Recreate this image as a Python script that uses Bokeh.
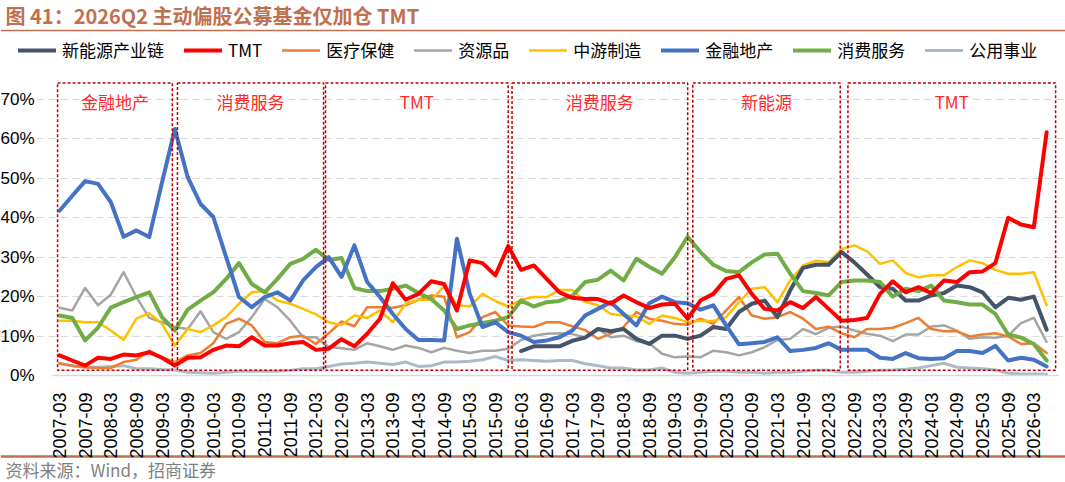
from bokeh.plotting import figure
from bokeh.models import (ColumnDataSource, FixedTicker, NumeralTickFormatter, Legend,
                          LegendItem, Range1d, LinearAxis, Grid)
from bokeh.embed import file_html
from bokeh.resources import INLINE
from bokeh.core.properties import value
import numpy as np

quarters = [
    "2007-03", "2007-06", "2007-09", "2007-12", "2008-03", "2008-06", "2008-09", "2008-12",
    "2009-03", "2009-06", "2009-09", "2009-12", "2010-03", "2010-06", "2010-09", "2010-12",
    "2011-03", "2011-06", "2011-09", "2011-12", "2012-03", "2012-06", "2012-09", "2012-12",
    "2013-03", "2013-06", "2013-09", "2013-12", "2014-03", "2014-06", "2014-09", "2014-12",
    "2015-03", "2015-06", "2015-09", "2015-12", "2016-03", "2016-06", "2016-09", "2016-12",
    "2017-03", "2017-06", "2017-09", "2017-12", "2018-03", "2018-06", "2018-09", "2018-12",
    "2019-03", "2019-06", "2019-09", "2019-12", "2020-03", "2020-06", "2020-09", "2020-12",
    "2021-03", "2021-06", "2021-09", "2021-12", "2022-03", "2022-06", "2022-09", "2022-12",
    "2023-03", "2023-06", "2023-09", "2023-12", "2024-03", "2024-06", "2024-09", "2024-12",
    "2025-03", "2025-06", "2025-09", "2025-12", "2026-03", "2026-06",
]

# values in percent
new_energy = [None] * 36 + [
    6.2, 7.4, 7.4, 7.4, 8.8, 9.6, 11.8, 11.2, 11.8, 9.3, 8.0, 10.1, 10.1, 9.3,
    10.1, 12.3, 11.8, 16.1, 18.2, 19.0, 14.8, 21.6, 27.3, 28.1, 28.1, 31.3, 28.7, 25.6,
    22.4, 22.0, 19.0, 19.0, 20.3, 20.9, 22.8, 22.4, 21.1, 17.3, 19.7, 19.2, 20.0, 11.6]
tmt = [
    5.1, 3.8, 2.5, 4.5, 4.2, 5.3, 5.1, 5.9, 4.5, 2.5, 4.5, 4.6, 6.5, 7.6, 7.4, 9.7,
    7.6, 7.6, 8.2, 8.5, 6.5, 6.8, 9.2, 7.4, 10.6, 14.4, 23.4, 19.2, 20.7, 23.9, 23.2, 16.5,
    29.2, 28.5, 25.4, 32.8, 26.8, 27.9, 24.5, 21.1, 19.7, 19.4, 19.4, 18.2, 20.3, 18.6, 17.1, 18.0,
    18.2, 14.4, 19.0, 20.7, 24.5, 25.4, 20.7, 16.9, 16.5, 18.6, 17.1, 19.9, 16.9, 13.9, 14.1, 14.6,
    20.7, 23.9, 21.1, 22.4, 20.9, 24.1, 23.7, 26.2, 26.4, 28.5, 40.0, 38.3, 37.6, 61.7]
healthcare = [
    3.1, 2.5, 2.1, 1.9, 1.9, 3.4, 4.0, 6.3, 4.6, 3.4, 5.1, 5.7, 8.2, 13.1, 14.4, 12.7,
    8.5, 8.2, 9.7, 10.1, 8.0, 10.7, 13.7, 12.5, 17.3, 17.3, 17.2, 17.8, 19.2, 20.3, 20.0, 9.7,
    11.0, 14.8, 16.1, 12.7, 12.4, 12.3, 13.5, 13.5, 12.5, 11.5, 9.3, 10.6, 12.3, 16.1, 14.4, 13.9,
    13.1, 12.9, 14.4, 13.1, 16.5, 19.9, 15.2, 14.4, 14.8, 16.1, 14.4, 11.8, 12.4, 10.7, 9.7, 11.8,
    11.8, 12.1, 13.3, 14.6, 11.8, 11.2, 11.2, 9.9, 10.4, 10.7, 9.9, 8.0, 8.2, 5.7]
resources = [
    17.2, 16.5, 22.2, 17.8, 20.5, 26.2, 19.9, 14.6, 13.5, 12.3, 11.8, 16.3, 11.0, 9.3, 11.0, 14.8,
    19.4, 17.3, 13.9, 9.7, 9.7, 7.2, 6.9, 6.5, 8.2, 7.4, 6.5, 7.6, 7.0, 5.9, 7.0, 6.3,
    5.7, 6.3, 6.3, 6.8, 9.0, 10.1, 10.6, 10.7, 10.5, 9.7, 11.8, 9.7, 10.1, 8.7, 8.2, 5.5,
    4.6, 4.8, 4.6, 6.3, 5.9, 5.1, 5.9, 7.2, 9.0, 9.3, 11.8, 10.5, 12.1, 12.4, 11.4, 10.6,
    10.1, 8.7, 10.4, 10.4, 12.4, 12.7, 11.4, 9.3, 9.7, 9.6, 10.1, 13.3, 14.6, 8.5]
midstream = [
    13.9, 13.9, 13.5, 13.5, 11.4, 9.0, 14.4, 15.8, 13.1, 7.6, 11.8, 11.0, 12.7, 14.8, 18.2, 21.1,
    21.4, 19.0, 18.2, 16.9, 15.5, 13.5, 12.8, 15.2, 14.6, 16.5, 13.5, 18.2, 19.2, 19.2, 22.6, 17.8,
    17.5, 20.7, 18.9, 17.5, 19.2, 19.9, 19.9, 21.7, 21.7, 18.7, 17.8, 15.6, 15.2, 15.0, 13.1, 15.2,
    14.6, 13.5, 13.9, 13.8, 14.8, 18.6, 22.0, 22.4, 18.6, 24.1, 27.9, 29.1, 28.7, 32.1, 33.0, 31.5,
    28.3, 29.2, 26.0, 24.9, 25.4, 25.4, 27.5, 29.2, 28.5, 26.8, 25.8, 25.8, 26.2, 17.8]
finance = [
    41.8, 45.6, 49.3, 48.6, 44.0, 35.2, 36.8, 35.1, 49.0, 62.5, 50.3, 43.5, 40.2, 30.0, 19.9, 17.3,
    19.9, 21.1, 19.0, 24.1, 27.5, 30.0, 25.0, 33.0, 23.7, 19.9, 15.6, 11.8, 9.0, 9.0, 8.9, 34.7,
    20.7, 12.3, 13.5, 11.0, 10.1, 8.5, 8.9, 9.7, 11.4, 15.2, 16.9, 18.6, 15.6, 12.7, 18.3, 20.0,
    18.6, 18.3, 16.7, 17.8, 12.7, 7.9, 8.2, 8.5, 9.7, 6.2, 6.5, 7.0, 8.2, 6.5, 6.5, 6.5,
    4.5, 4.2, 5.7, 4.4, 4.2, 4.4, 6.2, 6.2, 5.7, 7.5, 3.8, 4.5, 4.0, 2.3]
consumer = [
    15.2, 14.6, 8.9, 12.1, 17.2, 18.6, 19.9, 21.1, 14.8, 11.4, 16.7, 19.0, 21.1, 24.5, 28.5, 23.2,
    21.1, 24.5, 28.3, 29.6, 31.9, 29.3, 29.8, 22.2, 21.4, 21.4, 22.0, 22.8, 20.9, 19.4, 16.5, 11.8,
    12.7, 13.3, 13.9, 14.8, 19.0, 17.5, 18.6, 18.9, 20.2, 23.7, 24.3, 26.6, 24.1, 29.6, 27.6, 25.8,
    30.0, 35.2, 31.3, 28.1, 26.5, 26.2, 28.7, 30.7, 30.9, 25.8, 21.4, 20.9, 20.3, 23.7, 24.1, 24.1,
    23.7, 20.0, 22.0, 21.4, 22.8, 19.0, 18.6, 18.0, 18.0, 15.6, 10.4, 9.6, 8.0, 3.8]
utilities = [
    3.0, 2.5, 2.1, 2.1, 2.3, 2.5, 1.7, 1.7, 1.5, 1.4, 0.8, 0.7, 0.6, 0.8, 1.1, 1.1,
    1.1, 1.1, 1.3, 1.7, 1.7, 2.3, 2.9, 3.1, 3.4, 3.1, 2.8, 3.4, 2.3, 2.5, 3.4, 3.4,
    3.6, 4.0, 4.8, 3.8, 4.0, 3.8, 3.6, 3.8, 3.8, 3.0, 2.5, 1.9, 1.9, 1.4, 1.4, 1.9,
    0.8, 0.6, 0.8, 1.1, 1.1, 0.8, 0.8, 0.6, 0.8, 0.8, 1.1, 1.3, 1.3, 0.8, 0.8, 1.1,
    1.3, 1.4, 1.6, 1.9, 2.5, 3.1, 2.1, 1.9, 1.7, 1.4, 0.6, 0.4, 0.4, 0.3]

series_names = ["新能源产业链", "TMT", "医疗保健", "资源品", "中游制造", "金融地产", "消费服务", "公用事业"]
series_values = [new_energy, tmt, healthcare, resources, midstream, finance, consumer, utilities]

box_labels = ["金融地产", "消费服务", "TMT", "消费服务", "新能源", "TMT"]
y_ticks = [0.0, 0.1, 0.2, 0.3, 0.4, 0.5, 0.6, 0.7]

title_text = "图 41：2026Q2 主动偏股公募基金仅加仓 TMT"
source_text = "资料来源：Wind，招商证券"

# ---------------- styling / layout ----------------
colors = ["#44546A", "#FF0000", "#ED7D31", "#A5A5A5", "#FFC000", "#4472C4", "#70AD47", "#ADB9CA"]
widths = [4, 4, 2.5, 2.5, 2.5, 4, 4, 3]
draw_order = [7, 3, 2, 4, 0, 6, 5, 1]
box_left = [-0.15, 9.2, 20.75, 35.3, 49.4, 61.5]
box_right = [8.8, 20.6, 35.0, 49.0, 60.9, 77.7]

W, H = 1065, 482
CJK = "Noto Sans CJK SC"
LAT = "Liberation Sans"
BROWN = "#C0704F"

# canvas-pixel geometry of the plotting area
X0_PX, DX_PX = 59.0, 12.82
Y0_PX, DY_PX = 375.0, 394.3
x_lo, x_hi = (0 - X0_PX) / DX_PX, (W - X0_PX) / DX_PX
y_lo, y_hi = (Y0_PX - H) / DY_PX, (Y0_PX - 0) / DY_PX
plot_x0, plot_x1 = (52 - X0_PX) / DX_PX, (1058 - X0_PX) / DX_PX

p = figure(width=W, height=H, output_backend="svg", toolbar_location=None, title=None,
           x_range=Range1d(x_lo, x_hi), y_range=Range1d(y_lo, y_hi),
           x_axis_type=None, y_axis_type=None,
           min_border_left=0, min_border_right=0, min_border_top=0, min_border_bottom=0)
p.extra_x_ranges = {"px": Range1d(0, W)}
p.extra_y_ranges = {"px": Range1d(H, 0)}
p.outline_line_color = None
p.background_fill_color = "white"
p.border_fill_color = "white"

xs = list(range(len(quarters)))

yaxis = LinearAxis(fixed_location=plot_x0, ticker=FixedTicker(ticks=y_ticks),
                   formatter=NumeralTickFormatter(format="0%"))
yaxis.axis_line_color = None
yaxis.major_tick_line_color = None
yaxis.minor_tick_line_color = None
yaxis.major_label_standoff = 12
yaxis.major_label_text_font = LAT
yaxis.major_label_text_font_size = "17px"
yaxis.major_label_text_color = "#000000"
p.add_layout(yaxis, "left")

xaxis = LinearAxis(fixed_location=0, ticker=FixedTicker(ticks=xs[::2]),
                   major_label_overrides={i: quarters[i] for i in xs[::2]},
                   bounds=(plot_x0, plot_x1))
xaxis.major_label_orientation = np.pi / 2
xaxis.axis_line_color = "#D9D9D9"
xaxis.axis_line_width = 1.5
xaxis.major_tick_line_color = None
xaxis.minor_tick_line_color = None
xaxis.major_label_standoff = 11
xaxis.major_label_text_font = LAT
xaxis.major_label_text_font_size = "18px"
xaxis.major_label_text_color = "#000000"
p.add_layout(xaxis, "below")

ygrid = Grid(dimension=1, ticker=FixedTicker(ticks=y_ticks[1:]), bounds=(plot_x0, plot_x1),
             grid_line_color="#D9D9D9", grid_line_dash="7 5", grid_line_width=1)
p.add_layout(ygrid)

renderers = {}
for k in draw_order:
    vals = np.array([np.nan if v is None else v / 100.0 for v in series_values[k]], dtype=float)
    src = ColumnDataSource(dict(x=xs, y=vals))
    renderers[k] = p.line("x", "y", source=src, line_color=colors[k], line_width=widths[k],
                          line_join="round", line_cap="round")

bsrc = ColumnDataSource(dict(left=box_left, right=box_right,
                             bottom=[0.013] * len(box_left), top=[0.742] * len(box_left),
                             cx=[(a + b) / 2 for a, b in zip(box_left, box_right)],
                             ty=[0.695] * len(box_left), label=box_labels))
p.quad(left="left", right="right", bottom="bottom", top="top", source=bsrc,
       fill_color=None, line_color="#C00000", line_dash="3 2", line_width=1.5)
p.text(x="cx", y="ty", text="label", source=bsrc, text_align="center", text_baseline="middle",
       text_color="#FF2A2A", text_font=value(CJK), text_font_size="17px")

p.text(x=[5], y=[15], text=[title_text], x_range_name="px", y_range_name="px",
       text_font=value(CJK), text_font_size="20px", text_font_style="bold",
       text_color=BROWN, text_baseline="middle", text_align="left")
p.segment(x0=[0], x1=[W], y0=[30], y1=[30], x_range_name="px", y_range_name="px",
          line_color=BROWN, line_width=1.5)
p.segment(x0=[0], x1=[W], y0=[456], y1=[456], x_range_name="px", y_range_name="px",
          line_color=BROWN, line_width=2.5)
p.text(x=[5], y=[469], text=[source_text], x_range_name="px", y_range_name="px",
       text_font=value(CJK), text_font_size="17px", text_color="#7F7F7F",
       text_baseline="middle", text_align="left")

items = [LegendItem(label=series_names[k], renderers=[renderers[k]]) for k in range(len(series_names))]
legend = Legend(items=items, orientation="horizontal", location=(18, H - 62),
                border_line_color=None, background_fill_alpha=0,
                label_text_font=CJK, label_text_font_size="17px", label_text_color="#000000",
                glyph_width=38, glyph_height=20, label_height=20, label_standoff=6,
                spacing=20, padding=0, margin=0)
p.add_layout(legend)

open("out.html", "w").write(file_html(p, INLINE))
